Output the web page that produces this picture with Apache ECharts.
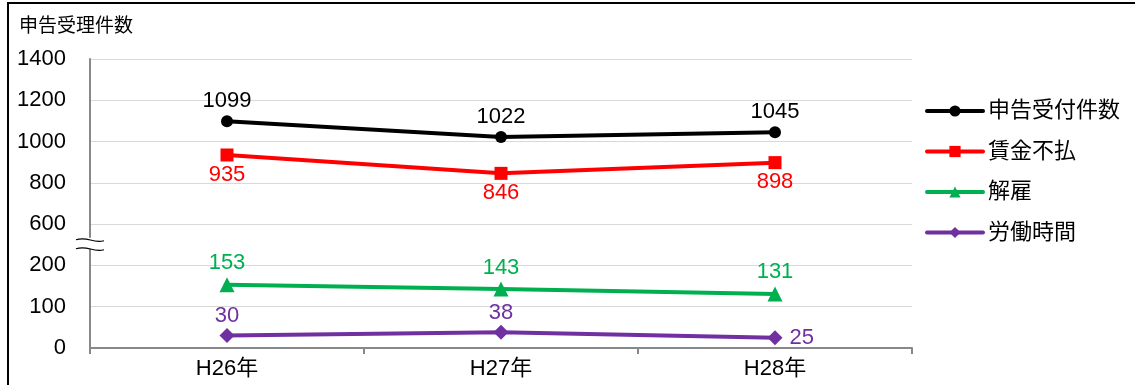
<!DOCTYPE html>
<html><head><meta charset="utf-8">
<script src="https://cdn.jsdelivr.net/npm/echarts@6/dist/echarts.min.js"></script>
<style>html,body{margin:0;padding:0;background:#fff}#c{width:1135px;height:385px}</style>
</head><body><div id="c"></div>
<script>
const categories = ['H26年', 'H27年', 'H28年'];
const seriesNames = ['申告受付件数', '賃金不払', '解雇', '労働時間'];
const totalCases = [1099, 1022, 1045];
const unpaidWages = [935, 846, 898];
const dismissal = [153, 143, 131];
const workingHours = [30, 38, 25];
const yTickValues = [0, 100, 200, 600, 800, 1000, 1200, 1400];
const yAxisTitle = '申告受理件数';

// broken axis: 0-200 at 100 per step, 600-1400 at 200 per step
function toPos(v) { return v <= 200 ? v / 100 : 3 + (v - 600) / 200; }

const font = 'Liberation Sans, Arial, "Noto Sans CJK JP", sans-serif';
const chart = echarts.init(document.getElementById('c'), null, {renderer: 'canvas'});

function mk(name, vals, color, symbol, size, labelPos, dist) {
  return {
    name, type: 'line', data: vals.map((v, i) => ({value: toPos(v), raw: v,
      label: (typeof labelPos === 'function') ? labelPos(i) : undefined})),
    symbol, symbolSize: size, lineStyle: {color, width: 4}, itemStyle: {color},
    label: {show: true, position: typeof labelPos === 'string' ? labelPos : 'top', distance: dist,
      color, fontSize: 22, fontFamily: font, formatter: p => p.data.raw},
    emphasis: {disabled: true}, animation: false
  };
}

chart.setOption({
  animation: false,
  textStyle: {fontFamily: font},
  title: {text: yAxisTitle, left: 14, top: 12, textStyle: {fontSize: 19, fontWeight: 'normal', color: '#000', fontFamily: font}},
  legend: {
    orient: 'vertical', left: 920, top: 95, itemGap: 18.5, itemWidth: 56, itemHeight: 14,
    textStyle: {fontSize: 22, color: '#000', fontFamily: font},
    lineStyle: {width: 4, cap: 'round'},
    data: seriesNames
  },
  grid: {left: 90, right: 223, top: 59, bottom: 37},
  xAxis: {
    type: 'category', data: categories, boundaryGap: true,
    axisLine: {lineStyle: {color: '#888', width: 2}},
    axisTick: {show: true, length: 6, lineStyle: {color: '#888', width: 2}},
    axisLabel: {fontSize: 22, color: '#000', margin: 10, fontFamily: font}
  },
  yAxis: {
    type: 'value', min: 0, max: 7, interval: 1,
    axisLine: {show: true, lineStyle: {color: '#888', width: 2}},
    axisTick: {show: false},
    splitLine: {lineStyle: {color: '#d9d9d9', width: 1}},
    axisLabel: {fontSize: 22, color: '#000', margin: 24, fontFamily: font,
      formatter: v => yTickValues[Math.round(v)]}
  },
  series: [
    mk(seriesNames[0], totalCases, '#000000', 'circle', 12, 'top', 3),
    mk(seriesNames[1], unpaidWages, '#FF0000', 'rect', 13, 'bottom', 2),
    mk(seriesNames[2], dismissal, '#00B050', 'triangle', 15, 'top', 3),
    mk(seriesNames[3], workingHours, '#7030A0', 'diamond', 15, i => i === 2 ? {position: 'right', distance: 7} : undefined, 1)
  ]
});

// axis break marks and outer frame, positioned through the chart's scales
const bp = chart.convertToPixel({gridIndex: 0}, [0, 2.5]);
const ax = chart.convertToPixel({gridIndex: 0}, [0, 0]);
const axX = ax[0] - chart.getModel().getComponent('xAxis').axis.getBandWidth() / 2;
chart.setOption({
  graphic: [
    {type: 'rect', shape: {x: axX - 10, y: bp[1] - 7, width: 20, height: 11}, style: {fill: '#fff'}, z: 100},
    {type: 'bezierCurve', shape: {x1: axX - 14, y1: bp[1] - 5, x2: axX + 14, y2: bp[1] - 4, cpx1: axX - 2, cpy1: bp[1] - 9, cpx2: axX + 2, cpy2: bp[1] - 1}, style: {stroke: '#000', lineWidth: 1.2, fill: null}, z: 101},
    {type: 'bezierCurve', shape: {x1: axX - 14, y1: bp[1] + 4, x2: axX + 14, y2: bp[1] + 5, cpx1: axX - 2, cpy1: bp[1], cpx2: axX + 2, cpy2: bp[1] + 8}, style: {stroke: '#000', lineWidth: 1.2, fill: null}, z: 101},
    {type: 'rect', shape: {x: 8, y: 3, width: 1200, height: 500}, style: {fill: null, stroke: '#000', lineWidth: 2}, z: 102, silent: true}
  ]
});
</script></body></html>
